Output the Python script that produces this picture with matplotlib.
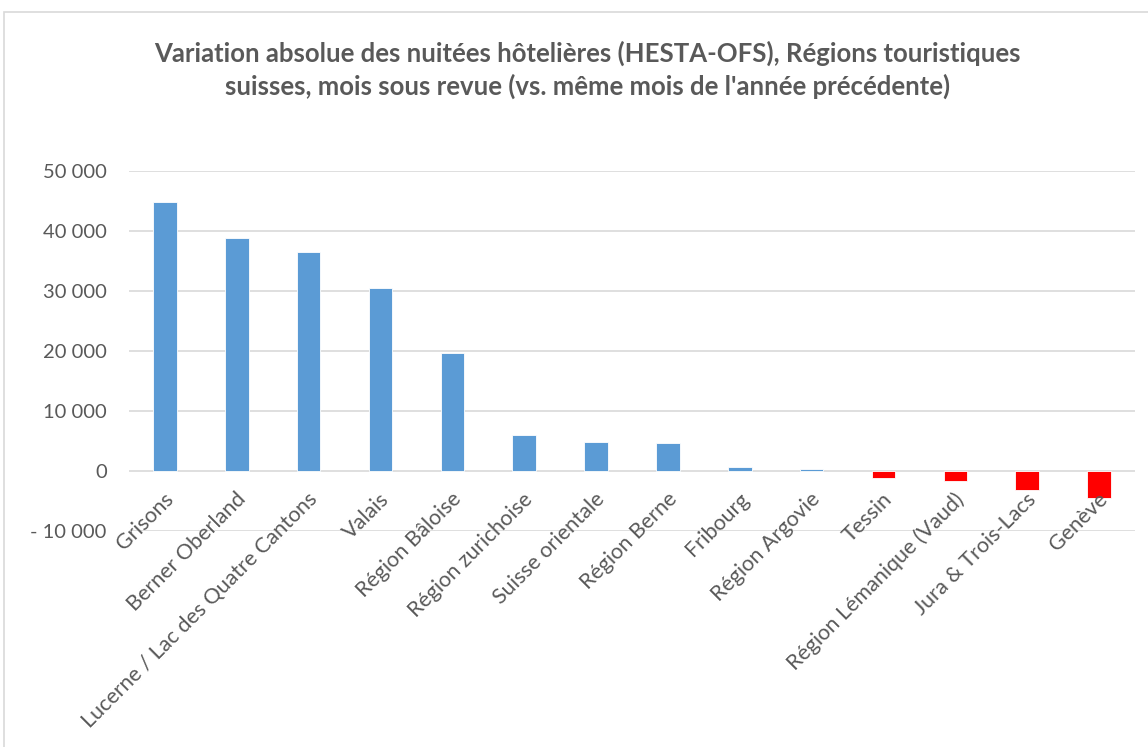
import numpy as np
import matplotlib
matplotlib.use("Agg")
import matplotlib.pyplot as plt
from matplotlib.patches import Rectangle
from matplotlib.ticker import FuncFormatter

regions = ["Grisons", "Berner Oberland", "Lucerne / Lac des Quatre Cantons", "Valais",
           "Région Bâloise", "Région zurichoise", "Suisse orientale", "Région Berne",
           "Fribourg", "Région Argovie", "Tessin", "Région Lémanique (Vaud)",
           "Jura & Trois-Lacs", "Genève"]
variation = [44750, 38800, 36450, 30500, 19700, 6000, 4750, 4600,
             730, 330, -1200, -1600, -3250, -4580]
yticks = [-10000, 0, 10000, 20000, 30000, 40000, 50000]

grey = "#595959"
plt.rcParams['font.family'] = ['Lato', 'DejaVu Sans']

fig = plt.figure(figsize=(11.48, 7.47), dpi=100)
fig.patches.append(Rectangle((4 / 1148, -0.1), 1.2, 1 - 12 / 747 + 0.1,
                             transform=fig.transFigure, fill=False,
                             edgecolor="#D9D9D9", linewidth=1.2))
ax = fig.add_axes([129 / 1148, 1 - 531 / 747, (1135 - 129) / 1148, 360 / 747])

x = np.arange(len(regions))
colors = ["#5B9BD5" if v >= 0 else "#FF0000" for v in variation]
ax.bar(x, variation, width=0.33, color=colors, edgecolor="white", linewidth=0.6, zorder=3)

ax.set_ylim(-10000, 50000)
ax.set_xlim(-0.5, len(regions) - 0.5)
ax.set_yticks(yticks)
ax.yaxis.set_major_formatter(FuncFormatter(
    lambda v, p: ("- " if v < 0 else "") + f"{abs(int(v)):,}".replace(",", " ")))
ax.grid(axis="y", color="#D9D9D9", linewidth=1.2, zorder=0)
for s in ax.spines.values():
    s.set_visible(False)
ax.tick_params(axis="both", length=0, colors=grey, labelsize=14.5)
ax.tick_params(axis="y", pad=16)
ax.set_xticks(x)
ax.set_xticklabels([])

# category labels hang from the zero line, like Excel does
for xi, name in zip(x, regions):
    ax.annotate(name, xy=(xi, 0), xytext=(-1, -13), textcoords="offset points",
                rotation=45, ha="right", va="top", rotation_mode="anchor",
                fontsize=15.5, color=grey, annotation_clip=False)

fig.text(0.512, 1 - 70 / 747,
         "Variation absolue des nuitées hôtelières (HESTA-OFS), Régions touristiques\n"
         "suisses, mois sous revue (vs. même mois de l'année précédente)",
         ha="center", va="center", fontsize=18.5, fontweight="bold", color=grey,
         linespacing=1.35)

fig.savefig("out.png", dpi=100, facecolor="white")
